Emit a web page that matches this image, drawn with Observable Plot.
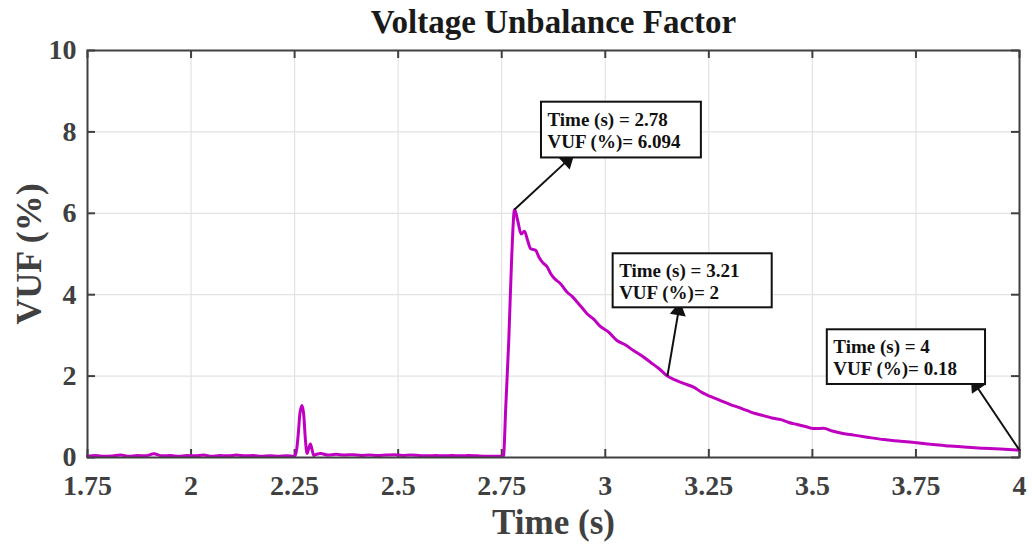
<!DOCTYPE html>
<html>
<head>
<meta charset="utf-8">
<script src="https://cdn.jsdelivr.net/npm/d3@7"></script>
<script src="https://cdn.jsdelivr.net/npm/@observablehq/plot@0.6"></script>
<style>
  html, body { margin: 0; padding: 0; background: #fff; }
  #chart svg { display: block; }
</style>
</head>
<body>
<div id="chart"></div>
<script>
// ---- Data ----
const time = [
  1.75,1.77,1.79,1.81,1.83,1.85,1.87,1.89,1.91,1.93,1.95,1.97,1.99,2.01,2.03,2.05,2.07,2.09,2.11,2.13,2.15,2.17,2.19,2.21,2.23,2.25,
  2.255,2.259,2.263,2.268,2.272,2.276,2.280,2.284,2.288,2.292,2.296,2.303,2.313,
  2.33,2.35,2.37,2.39,2.41,2.43,2.45,2.47,2.49,2.51,2.53,2.55,2.57,2.59,2.61,2.63,2.65,2.67,2.69,2.71,2.73,2.75,
  2.754,2.760,2.767,2.774,2.781,2.789,2.797,2.805,2.812,2.820,2.832,2.840,2.848,2.860,2.868,2.876,
  2.892,2.908,2.920,2.932,2.944,2.956,2.972,2.988,3.008,3.029,3.048,3.068,3.088,3.109,3.130,3.150,
  3.170,3.189,3.213,3.233,3.254,3.278,3.302,3.322,3.343,3.362,3.382,3.402,3.424,3.443,3.463,3.483,3.503,3.527,
  3.548,3.568,3.600,3.632,3.672,3.713,3.752,3.792,3.832,3.874,3.914,3.954,4.0
];
const vuf = [
  0.03,0.05,0.03,0.04,0.06,0.03,0.05,0.04,0.09,0.04,0.05,0.03,0.05,0.04,0.06,0.03,0.05,0.04,0.06,0.04,0.05,0.03,0.04,0.03,0.04,0.03,
  0.2,0.6,1.1,1.28,1.05,0.45,0.1,0.22,0.33,0.2,0.05,0.08,0.1,
  0.06,0.08,0.06,0.07,0.05,0.06,0.05,0.06,0.07,0.05,0.06,0.05,0.04,0.05,0.04,0.05,0.04,0.05,0.04,0.03,0.03,0.03,
  0.03,1.3,2.87,4.9,6.094,5.8,5.49,5.56,5.35,5.13,5.09,4.92,4.80,4.68,4.52,4.41,
  4.27,4.06,3.96,3.82,3.68,3.53,3.40,3.22,3.08,2.87,2.77,2.63,2.50,2.34,2.18,2.0,
  1.90,1.82,1.73,1.60,1.50,1.40,1.30,1.23,1.15,1.08,1.03,0.97,0.93,0.86,0.81,0.76,0.71,0.72,
  0.65,0.60,0.55,0.50,0.44,0.40,0.36,0.32,0.28,0.25,0.23,0.21,0.18
];

const xTicks = [1.75, 2, 2.25, 2.5, 2.75, 3, 3.25, 3.5, 3.75, 4];
const yTicks = [0, 2, 4, 6, 8, 10];

const titleText = "Voltage Unbalance Factor";
const xLabel = "Time (s)";
const yLabel = "VUF (%)";

// Data tips: pointed data value, label text
const tipTime  = [2.781, 3.150, 4.0];
const tipValue = [6.094, 2.0, 0.18];
const tipText = [
  "Time (s) = 2.78\nVUF (%)= 6.094",
  "Time (s) = 3.21\nVUF (%)= 2",
  "Time (s) = 4\nVUF (%)= 0.18"
];
// Label box corners and arrow heads, in data units
const boxT1 = [2.846, 3.019, 3.536];
const boxT2 = [3.232, 3.403, 3.918];
const boxVTop = [8.73, 5.005, 3.138];
const boxVBot = [7.36, 3.678, 1.794];
const headT = [2.909, 3.177, 3.895];
const headV = [7.30, 3.61, 1.77];

// ---- Build tables ----
const W = 1032, H = 544;
const mL = 87, mR = 13, mT = 50, mB = 87;
const innerW = W - mL - mR, innerH = H - mT - mB;
const xDomain = [1.75, 4], yDomain = [0, 10];

// scales used only to orient the filled arrow heads
const sx = Plot.scale({x: {domain: xDomain, range: [mL, W - mR]}});
const sy = Plot.scale({y: {domain: yDomain, range: [H - mB, mT]}});

const series = time.map((t, i) => ({t, v: vuf[i]}));
const tips = tipTime.map((t, i) => {
  const ddx = sx.apply(headT[i]) - sx.apply(t);
  const ddy = sy.apply(headV[i]) - sy.apply(tipValue[i]);
  return {
    t, v: tipValue[i], text: tipText[i],
    t1: boxT1[i], t2: boxT2[i], vTop: boxVTop[i], vBot: boxVBot[i],
    ht: headT[i], hv: headV[i],
    angle: Math.atan2(ddx, -ddy) * 180 / Math.PI
  };
});

const font = "'Liberation Serif', 'Times New Roman', serif";
const axisColor = "#404040";
const tickLen = 8;

const chart = Plot.plot({
  width: W,
  height: H,
  marginLeft: mL, marginRight: mR, marginTop: mT, marginBottom: mB,
  style: {fontFamily: font, background: "#fff", color: axisColor},
  x: {domain: xDomain},
  y: {domain: yDomain},
  marks: [
    Plot.gridX(xTicks, {stroke: "#e2e2e2", strokeOpacity: 1, strokeWidth: 1.2}),
    Plot.gridY(yTicks, {stroke: "#e2e2e2", strokeOpacity: 1, strokeWidth: 1.2}),
    // inward ticks on all four sides
    Plot.tickX(xTicks, {x: d => d, insetTop: innerH - tickLen, stroke: axisColor, strokeWidth: 2}),
    Plot.tickX(xTicks, {x: d => d, insetBottom: innerH - tickLen, stroke: axisColor, strokeWidth: 2}),
    Plot.tickY(yTicks, {y: d => d, insetRight: innerW - tickLen, stroke: axisColor, strokeWidth: 2}),
    Plot.tickY(yTicks, {y: d => d, insetLeft: innerW - tickLen, stroke: axisColor, strokeWidth: 2}),
    Plot.axisX(xTicks, {
      tickSize: 0, tickPadding: 18, label: null, fontSize: 28, fontWeight: "bold",
      fill: axisColor, tickFormat: d => String(d)
    }),
    Plot.axisY(yTicks, {
      tickSize: 0, tickPadding: 11, label: null, fontSize: 28, fontWeight: "bold",
      fill: axisColor, tickFormat: d => String(d)
    }),
    Plot.line(series, {x: "t", y: "v", stroke: "#c000c0", strokeWidth: 3, strokeLinejoin: "round", curve: "monotone-x"}),
    Plot.frame({stroke: axisColor, strokeWidth: 2}),
    Plot.link(tips, {x1: "t", y1: "v", x2: "ht", y2: "hv", stroke: "#111", strokeWidth: 2}),
    Plot.dot(tips, {x: "ht", y: "hv", symbol: "triangle", r: 6, fill: "#111", stroke: "none", rotate: "angle"}),
    Plot.rect(tips, {x1: "t1", x2: "t2", y1: "vBot", y2: "vTop", fill: "#fff", stroke: "#111", strokeWidth: 2}),
    Plot.text(tips, {
      x: "t1", y: "vTop", text: "text", textAnchor: "start", lineAnchor: "top",
      dx: 6, dy: 8, fontSize: 19, fontWeight: "bold", fill: "#111", lineHeight: 1.16
    }),
    // title and axis labels
    Plot.text([titleText], {
      frameAnchor: "top", dy: -28, text: d => d, fontSize: 33, fontWeight: "bold",
      fill: "#1a1a1a", lineAnchor: "middle", textAnchor: "middle", letterSpacing: "1.8px"
    }),
    Plot.text([xLabel], {
      frameAnchor: "bottom", dy: 65, text: d => d, fontSize: 35, fontWeight: "bold",
      fill: axisColor, lineAnchor: "middle", textAnchor: "middle"
    }),
    Plot.text([yLabel], {
      frameAnchor: "left", dx: -58, text: d => d, fontSize: 36, fontWeight: "bold",
      fill: axisColor, rotate: -90, lineAnchor: "middle", textAnchor: "middle"
    })
  ]
});
document.getElementById("chart").appendChild(chart);
</script>
</body>
</html>
